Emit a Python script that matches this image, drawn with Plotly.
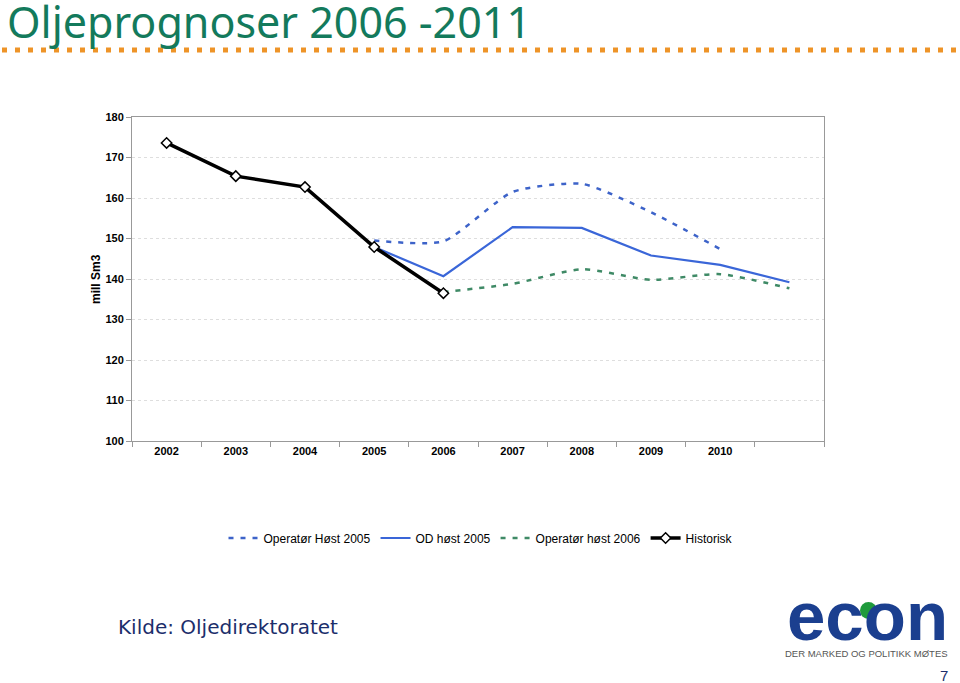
import plotly.graph_objects as go

years = ["2002", "2003", "2004", "2005", "2006", "2007", "2008", "2009", "2010", "2011"]
tick_labels = ["2002", "2003", "2004", "2005", "2006", "2007", "2008", "2009", "2010", ""]

operator_host_2005 = [None, None, None, 149.5, 149.3, 161.5, 163.5, 156.5, 147.4, None]
od_host_2005 = [None, None, None, 147.9, 140.7, 152.8, 152.6, 145.8, 143.5, 139.2]
operator_host_2006 = [None, None, None, None, 136.8, 138.8, 142.4, 139.8, 141.2, 137.7]
historisk = [173.6, 165.4, 162.7, 147.9, 136.5, None, None, None, None, None]

# plot area in page pixels: x 132..824, y 117..441
PL, PR, PT, PB = 132, 824, 117, 441
W, H = 960, 683


def px(x):
    return (x - PL) / (PR - PL)


def py(y):
    return (PB - y) / (PB - PT)


fig = go.Figure()
fig.add_trace(go.Scatter(
    x=years, y=operator_host_2005, name="Operatør Høst 2005", mode="lines",
    line=dict(color="#3d63c9", width=2.5, dash="5px,7px", shape="spline", smoothing=0.6)))
fig.add_trace(go.Scatter(
    x=years, y=od_host_2005, name="OD høst 2005", mode="lines",
    line=dict(color="#3a66d8", width=2.2)))
fig.add_trace(go.Scatter(
    x=years, y=operator_host_2006, name="Operatør høst 2006", mode="lines",
    line=dict(color="#3f8a66", width=2.5, dash="5px,7px", shape="spline", smoothing=0.6)))
fig.add_trace(go.Scatter(
    x=years, y=historisk, name="Historisk", mode="lines+markers",
    line=dict(color="black", width=3.5),
    marker=dict(symbol="diamond", size=8, color="white", line=dict(color="black", width=1.5))))

fig.update_layout(
    width=W, height=H,
    margin=dict(l=PL, r=W - PR, t=PT, b=H - PB),
    paper_bgcolor="white", plot_bgcolor="white",
    font=dict(family="Liberation Sans, Arial", color="black"),
    showlegend=True,
    legend=dict(orientation="h", x=px(481), xanchor="center", y=py(538), yanchor="middle",
                font=dict(size=12, family="Liberation Sans, Arial"), bgcolor="rgba(0,0,0,0)"),
    xaxis=dict(type="category", categoryorder="array", categoryarray=years,
               tickmode="array", tickvals=years, ticktext=tick_labels,
               tickson="boundaries", ticks="outside", ticklen=5, tickcolor="#999999",
               showline=True, linecolor="#999999", linewidth=1, mirror=True,
               showgrid=False, zeroline=False,
               tickfont=dict(size=11, family="Liberation Sans, Arial", color="black", weight="bold"),
               range=[-0.5, 9.5]),
    yaxis=dict(range=[100, 180], dtick=10, tick0=100,
               ticks="outside", ticklen=5, tickcolor="#999999",
               showline=True, linecolor="#999999", linewidth=1, mirror=True,
               showgrid=True, gridcolor="#dedede", griddash="dot", gridwidth=1,
               zeroline=False,
               tickfont=dict(size=11, family="Liberation Sans, Arial", color="black", weight="bold")),
)

# Y axis title
fig.add_annotation(text="<b>mill Sm3</b>", xref="paper", yref="paper",
                   x=px(96), y=py(279), textangle=-90, showarrow=False,
                   font=dict(size=12, family="Liberation Sans, Arial", color="black"),
                   xanchor="center", yanchor="middle")

# Slide title
fig.add_annotation(text="Oljeprognoser 2006 -2011", xref="paper", yref="paper",
                   x=px(5), y=py(21), showarrow=False, xanchor="left", yanchor="middle",
                   font=dict(size=43, family="Noto Sans", color="#137a5c"))
# orange dotted rule
fig.add_shape(type="line", xref="paper", yref="paper",
              x0=px(2), x1=px(960), y0=py(50), y1=py(50),
              line=dict(color="#ee9428", width=5, dash="5px,8px"))

# Source
fig.add_annotation(text="Kilde: Oljedirektoratet", xref="paper", yref="paper",
                   x=px(116), y=py(627), showarrow=False,
                   xanchor="left", yanchor="middle",
                   font=dict(size=20, family="DejaVu Sans", color="#1c2e6b"))

# Logo
fig.add_annotation(text="<b>econ</b>", xref="paper", yref="paper",
                   x=px(867), y=py(616), showarrow=False,
                   xanchor="center", yanchor="middle",
                   font=dict(size=69, family="Liberation Sans, Arial", color="#1b3f8f"))
fig.add_shape(type="circle", xref="paper", yref="paper",
              x0=px(860), x1=px(877), y0=py(619), y1=py(602),
              fillcolor="#1f9a3c", line=dict(width=0))
fig.add_annotation(text="DER MARKED OG POLITIKK MØTES", xref="paper", yref="paper",
                   x=px(866), y=py(653), showarrow=False,
                   xanchor="center", yanchor="middle",
                   font=dict(size=9.5, family="Liberation Sans, Arial", color="#555555"))
fig.add_annotation(text="7", xref="paper", yref="paper",
                   x=px(944), y=py(675), showarrow=False,
                   xanchor="center", yanchor="middle",
                   font=dict(size=15, family="Liberation Sans, Arial", color="#1c2e6b"))

fig.write_html("out.html", config={"displayModeBar": False},
               post_script="document.body.style.margin='0';")
